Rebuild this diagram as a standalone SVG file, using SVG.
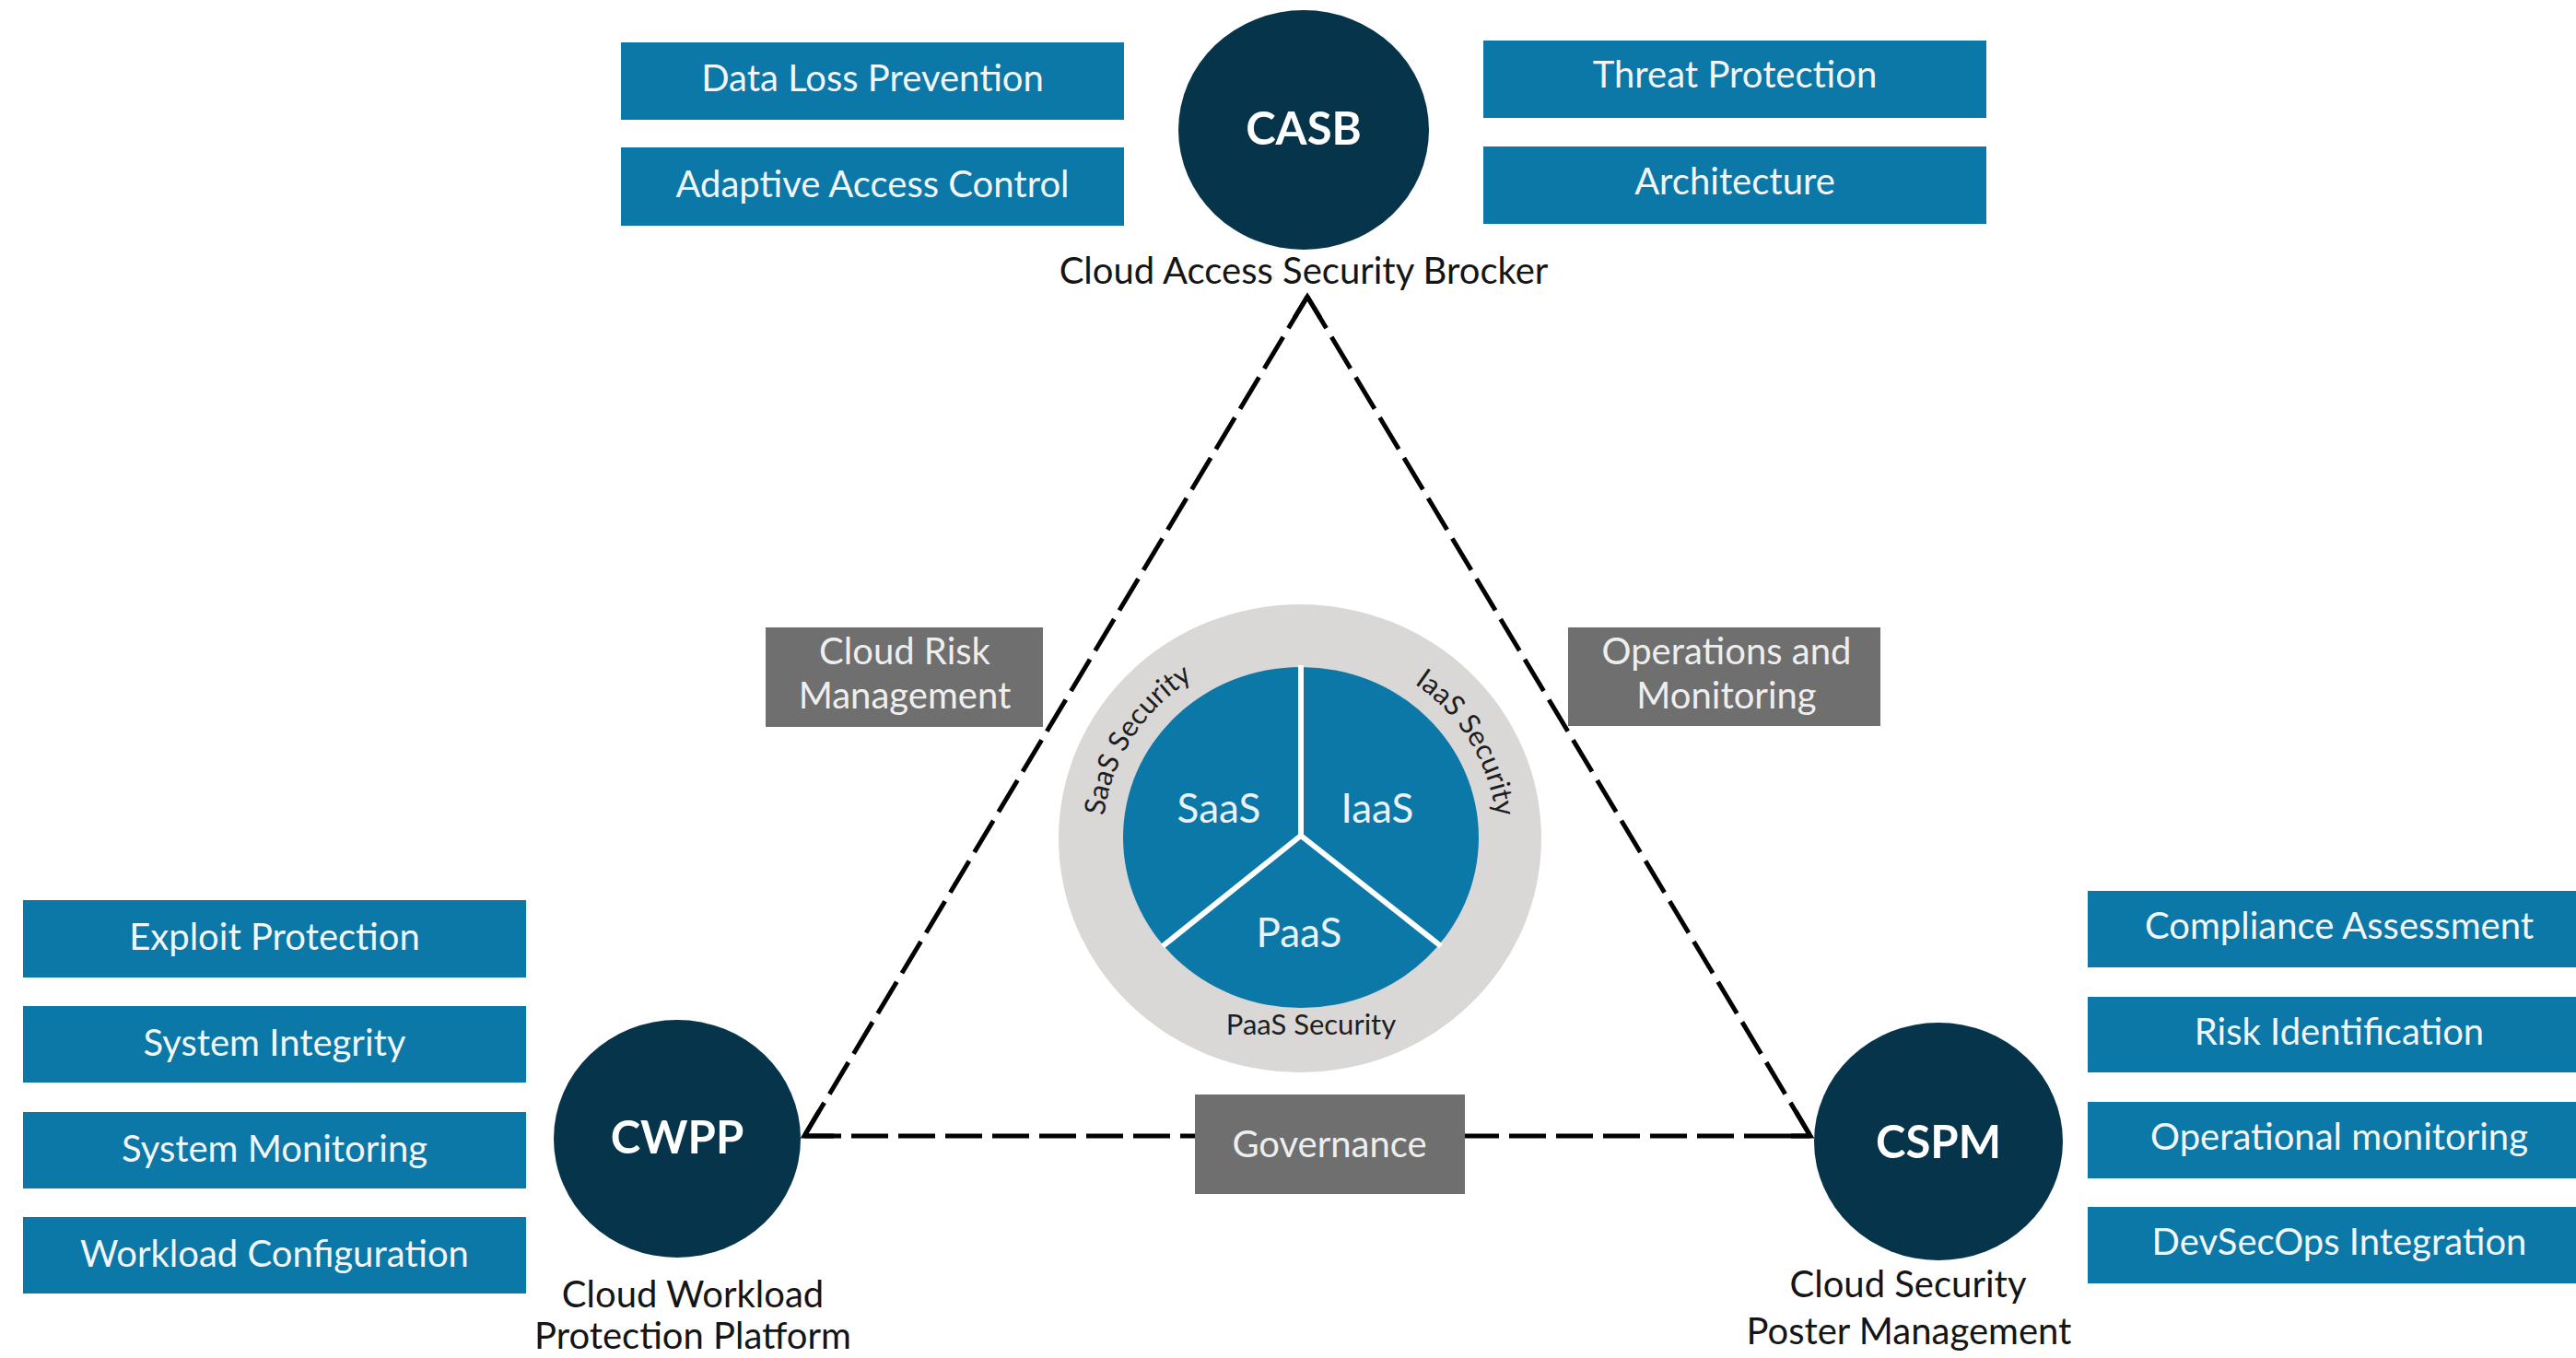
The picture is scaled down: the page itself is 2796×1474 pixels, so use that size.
<svg xmlns="http://www.w3.org/2000/svg" xmlns:xlink="http://www.w3.org/1999/xlink" width="2796" height="1474" viewBox="0 0 2796 1474">
<style>
.box{fill:#0b78a8}
.gbox{fill:#6f6f6f}
.hub{fill:#06344a}
.bt{font-family:Lato,"Open Sans",sans-serif;font-size:40px;fill:#f2f6f8;text-anchor:middle}
.gt{font-family:Lato,"Open Sans",sans-serif;font-size:40px;fill:#eeeeee;text-anchor:middle}
.ht{font-family:Lato,"Open Sans",sans-serif;font-size:49px;font-weight:bold;fill:#ffffff;text-anchor:middle}
.lt{font-family:Lato,"Open Sans",sans-serif;font-size:40px;fill:#151515;text-anchor:middle}
.pt{font-family:Lato,"Open Sans",sans-serif;font-size:44px;fill:#e8f2f7;text-anchor:middle}
.rt{font-family:Lato,"Open Sans",sans-serif;font-size:31px;fill:#1e1e1e}
.edge{fill:none;stroke:#000;stroke-width:5}
.dash{stroke-dasharray:40 11}
</style>
<defs>
<path id="ring" d="M 1197 910 A 214 206 0 1 1 1625 910 A 214 206 0 1 1 1197 910"/>
</defs>
<rect width="2796" height="1474" fill="#ffffff"/>

<g id="connectors">
<line class="edge dash" x1="1419" y1="322" x2="873" y2="1233"/>
<line class="edge dash" x1="1419" y1="322" x2="1965" y2="1233"/>
<line class="edge dash" x1="873" y1="1233" x2="1965" y2="1233"/>
<polyline class="edge" stroke-linejoin="miter" points="1405,345 1419,322 1433,345"/>
<polyline class="edge" stroke-linejoin="miter" points="889,1206 873,1233 905,1233"/>
<polyline class="edge" stroke-linejoin="miter" points="1949,1206 1965,1233 1933,1233"/>
</g>

<g id="center">
<ellipse cx="1411" cy="910" rx="262" ry="254" fill="#dad7d7"/>
<ellipse cx="1412" cy="909" rx="193" ry="185" fill="#0b78a8"/>
<g stroke="#ffffff" stroke-width="6" stroke-linecap="butt">
<line x1="1412" y1="907" x2="1412" y2="722"/>
<line x1="1412" y1="907" x2="1262" y2="1027"/>
<line x1="1412" y1="907" x2="1564" y2="1027"/>
</g>
<text class="pt" x="1323" y="893">SaaS</text>
<text class="pt" x="1495" y="893">IaaS</text>
<text class="pt" x="1410" y="1028">PaaS</text>
<text class="rt"><textPath xlink:href="#ring" startOffset="8.8%" text-anchor="middle">SaaS Security</textPath></text>
<text class="rt"><textPath xlink:href="#ring" startOffset="41.6%" text-anchor="middle">IaaS Security</textPath></text>
<text class="rt" x="1423" y="1123" text-anchor="middle">PaaS Security</text>
</g>

<g id="casb">
<ellipse class="hub" cx="1415" cy="141" rx="136" ry="130"/>
<text class="ht" x="1415" y="157">CASB</text>
<text class="lt" x="1415" y="308">Cloud Access Security Brocker</text>
</g>
<g id="casb-dlp"><rect class="box" x="674" y="46" width="546" height="84"/><text class="bt" x="947" y="99">Data Loss Prevention</text></g>
<g id="casb-aac"><rect class="box" x="674" y="160" width="546" height="85"/><text class="bt" x="947" y="214">Adaptive Access Control</text></g>
<g id="casb-tp"><rect class="box" x="1610" y="44" width="546" height="84"/><text class="bt" x="1883" y="95">Threat Protection</text></g>
<g id="casb-arch"><rect class="box" x="1610" y="159" width="546" height="84"/><text class="bt" x="1883" y="211">Architecture</text></g>

<g id="cwpp">
<ellipse class="hub" cx="735" cy="1236" rx="134" ry="129"/>
<text class="ht" x="735" y="1252">CWPP</text>
<text class="lt" x="752" y="1419">Cloud Workload</text>
<text class="lt" x="752" y="1464">Protection Platform</text>
</g>
<g id="cwpp-ep"><rect class="box" x="25" y="977" width="546" height="84"/><text class="bt" x="298" y="1031">Exploit Protection</text></g>
<g id="cwpp-si"><rect class="box" x="25" y="1092" width="546" height="83"/><text class="bt" x="298" y="1146">System Integrity</text></g>
<g id="cwpp-sm"><rect class="box" x="25" y="1207" width="546" height="83"/><text class="bt" x="298" y="1261">System Monitoring</text></g>
<g id="cwpp-wc"><rect class="box" x="25" y="1321" width="546" height="83"/><text class="bt" x="298" y="1375">Workload Configuration</text></g>

<g id="cspm">
<ellipse class="hub" cx="2104" cy="1239" rx="135" ry="129"/>
<text class="ht" x="2104" y="1257">CSPM</text>
<text class="lt" x="2071" y="1408">Cloud Security</text>
<text class="lt" x="2072" y="1459">Poster Management</text>
</g>
<g id="cspm-ca"><rect class="box" x="2266" y="967" width="530" height="83"/><text class="bt" x="2539" y="1019">Compliance Assessment</text></g>
<g id="cspm-ri"><rect class="box" x="2266" y="1082" width="530" height="82"/><text class="bt" x="2539" y="1134">Risk Identification</text></g>
<g id="cspm-om"><rect class="box" x="2266" y="1196" width="530" height="83"/><text class="bt" x="2539" y="1248">Operational monitoring</text></g>
<g id="cspm-dso"><rect class="box" x="2266" y="1310" width="530" height="83"/><text class="bt" x="2539" y="1362">DevSecOps Integration</text></g>

<g id="crm"><rect class="gbox" x="831" y="681" width="301" height="108"/><text class="gt" x="982" y="721">Cloud Risk</text><text class="gt" x="982" y="769">Management</text></g>
<g id="om"><rect class="gbox" x="1702" y="681" width="339" height="107"/><text class="gt" x="1874" y="721">Operations and</text><text class="gt" x="1874" y="769">Monitoring</text></g>
<g id="gov"><rect class="gbox" x="1297" y="1188" width="293" height="108"/><text class="gt" x="1443" y="1256">Governance</text></g>
</svg>
